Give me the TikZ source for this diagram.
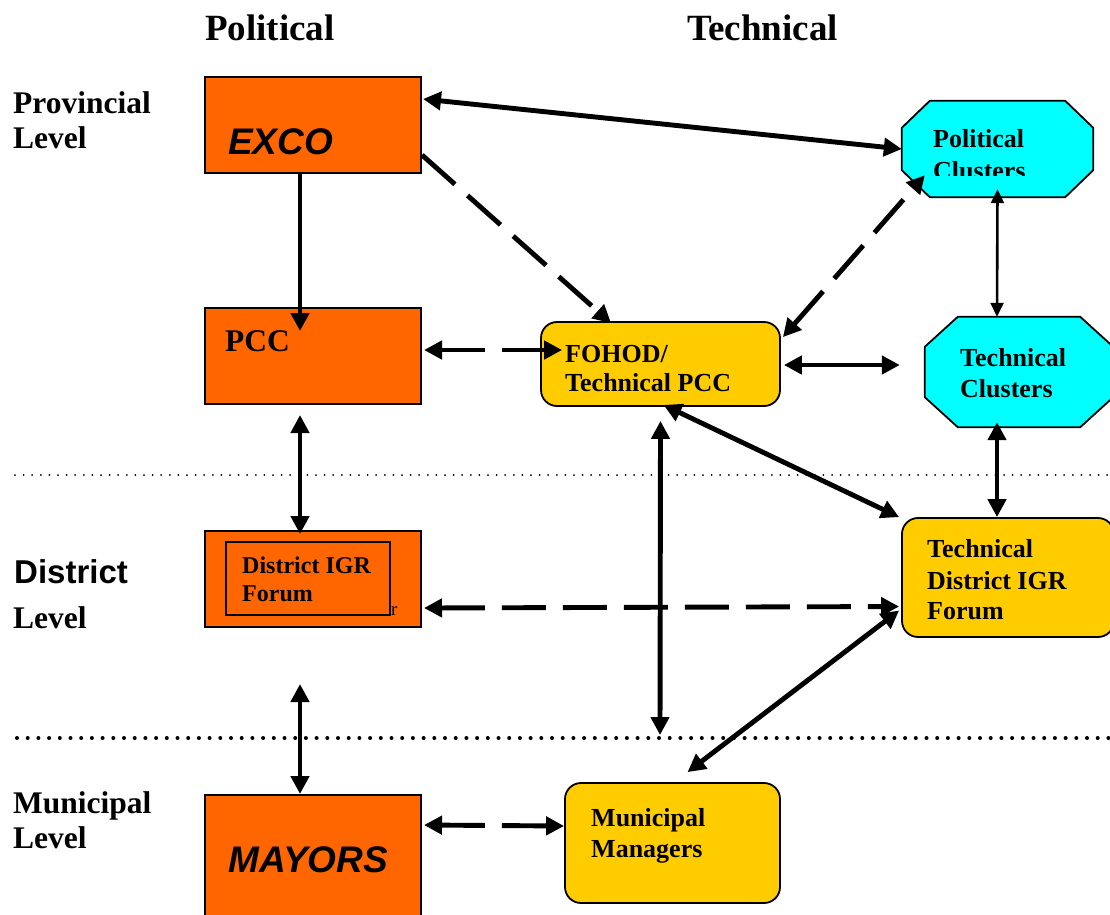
\documentclass[tikz,border=0pt]{standalone}
\usepackage{fontspec}
\setmainfont{Liberation Serif}
\newfontfamily\arialf{Liberation Sans}
\usetikzlibrary{arrows.meta,calc}
\definecolor{orangeA}{HTML}{FF6600}
\definecolor{yellowA}{HTML}{FFCC00}
\definecolor{cyanA}{HTML}{00FFFF}
\newcommand\myfs[1]{\fontsize{#1pt}{#1pt}\selectfont}
\begin{document}
\begin{tikzpicture}[x=1pt,y=-1pt,
  obox/.style={draw=black, line width=2pt, fill=orangeA, inner sep=0pt},
  ybox/.style={draw=black, line width=1.8pt, fill=yellowA, rounded corners=16pt, inner sep=0pt},
  frame/.style={inner sep=0pt, draw=none},
  octo/.style={draw=black, line width=1.8pt, fill=cyanA},
  txt/.style={anchor=base west, inner sep=0pt},
  link/.style={line width=4.9pt, {Triangle[length=18pt,width=18pt]}-{Triangle[length=18pt,width=18pt]}},
  tolink/.style={line width=4.9pt, -{Triangle[length=18pt,width=18pt]}},
  dashlink/.style={dash pattern=on 44pt off 17pt},
  thinlink/.style={line width=2.6pt, {Triangle[length=14pt,width=13pt]}-{Triangle[length=14pt,width=13pt]}},
  dotthin/.style={line width=2pt, line cap=round, dash pattern=on 0pt off 8.6pt},
  dotthick/.style={line width=4pt, line cap=round, dash pattern=on 0pt off 10.7pt}
  ]
\useasboundingbox (0,0) rectangle (1110,914);

% level separators
\coordinate (d1l) at (15,475); \coordinate (d1r) at (1112,475);
\draw[dotthin] (d1l) -- (d1r);
\coordinate (d2l) at (17,738); \coordinate (d2r) at (1112,738);
\draw[dotthick] (d2l) -- (d2r);

% boxes
\node[obox, minimum width=216pt, minimum height=96pt] (exco) at (313,125) {};
\node[obox, minimum width=216pt, minimum height=96pt] (pcc) at (313,356) {};
\node[obox, minimum width=216pt, minimum height=96pt] (dist) at (313,579) {};
\node[draw=black, line width=1.6pt, inner sep=0pt, minimum width=164pt, minimum height=73pt] (distin) at (308,578.5) {};
\node[obox, minimum width=216pt, minimum height=130pt] (mayors) at (313,860) {};
\node[ybox, minimum width=239pt, minimum height=84pt] (fohod) at (660.5,364) {};
\node[ybox, minimum width=215pt, minimum height=120pt] (mm) at (672.5,843) {};
\node[ybox, minimum width=212pt, minimum height=119pt] (tdist) at (1008,577.5) {};
\node[frame, minimum width=191pt, minimum height=96pt] (polcl) at (997.5,149) {};
\node[frame, minimum width=188pt, minimum height=110pt] (techcl) at (1019,372) {};
\draw[octo] ($(polcl.north west)+(28,0)$) -- ($(polcl.north east)+(-28,0)$) -- ($(polcl.north east)+(0,27)$) -- ($(polcl.south east)+(0,-27)$) -- ($(polcl.south east)+(-28,0)$) -- ($(polcl.south west)+(28,0)$) -- ($(polcl.south west)+(0,-27)$) -- ($(polcl.north west)+(0,27)$) -- cycle;
\draw[octo] ($(techcl.north west)+(33,0)$) -- ($(techcl.north east)+(-33,0)$) -- ($(techcl.north east)+(0,30)$) -- ($(techcl.south east)+(0,-30)$) -- ($(techcl.south east)+(-33,0)$) -- ($(techcl.south west)+(33,0)$) -- ($(techcl.south west)+(0,-30)$) -- ($(techcl.north west)+(0,30)$) -- cycle;

% headings and level labels
\node[txt, font=\bfseries\myfs{37}] (hpol) at (205,40) {Political};
\node[txt, font=\bfseries\myfs{37}] (htech) at (687,40) {Technical};
\node[txt, font=\bfseries\myfs{31.5}] (prov1) at (13,113) {Provincial};
\node[txt, font=\bfseries\myfs{31.5}] (prov2) at (13,148) {Level};
\node[txt, font=\arialf\bfseries\myfs{33}] (dis1) at (14,583) {District};
\node[txt, font=\bfseries\myfs{31.5}] (dis2) at (13,628) {Level};
\node[txt, font=\bfseries\myfs{31.5}] (mun1) at (13,813) {Municipal};
\node[txt, font=\bfseries\myfs{31.5}] (mun2) at (13,848) {Level};

% box texts
\node[txt, font=\arialf\bfseries\itshape\myfs{37}] (excot) at (228,154) {EXCO};
\node[txt, font=\bfseries\myfs{31.5}] (pcct) at (225,351) {PCC};
\node[txt, font=\bfseries\myfs{24}] (dist1) at (242,573) {District IGR};
\node[txt, font=\bfseries\myfs{24}] (dist2) at (242,601) {Forum};
\node[txt, font=\myfs{19}] (distr) at (391,615) {r};
\node[txt, font=\arialf\bfseries\itshape\myfs{37}] (mayt) at (228,872) {MAYORS};
\node[txt, font=\bfseries\myfs{26}] (foh1) at (565,362) {FOHOD/};
\node[txt, font=\bfseries\myfs{26}] (foh2) at (565,391) {Technical PCC};
\node[txt, font=\bfseries\myfs{26}] (pol1) at (933,147) {Political};
\begin{scope}
\clip (920,150) rectangle (1090,175);
\node[txt, font=\bfseries\myfs{26}] (pol2) at (933,179) {Clusters};
\end{scope}
\node[txt, font=\bfseries\myfs{26}] (tc1) at (960,366) {Technical};
\node[txt, font=\bfseries\myfs{26}] (tc2) at (960,397) {Clusters};
\node[txt, font=\bfseries\myfs{26}] (td1) at (927,557) {Technical};
\node[txt, font=\bfseries\myfs{26}] (td2) at (927,589) {District IGR};
\node[txt, font=\bfseries\myfs{26}] (td3) at (927,619) {Forum};
\node[txt, font=\bfseries\myfs{26}] (mm1) at (591,826) {Municipal};
\node[txt, font=\bfseries\myfs{26}] (mm2) at (591,857) {Managers};

% connectors
\draw[link] ($(exco.north east)+(1,23)$) -- (polcl.west);
\draw[tolink, dashlink] ($(exco.east)+(0,30)$) -- ($(fohod.north west)+(71,2)$);
\draw[tolink] ($(exco.south)+(-13,0)$) -- ($(pcc.north)+(-13,24)$);
\draw[link, dashlink] ($(pcc.east)+(2,-6)$) -- ($(fohod.west)+(22,-14)$);
\draw[link, dashlink] ($(fohod.north east)+(2,16)$) -- ($(polcl.south west)+(23,-22)$);
\draw[link] ($(fohod.east)+(3,1)$) -- ($(techcl.west)+(-25,-7)$);
\draw[thinlink] ($(polcl.south)+(0,-8)$) -- ($(techcl.north)+(-22,0)$);
\draw[link] ($(techcl.south)+(-22,-5)$) -- ($(tdist.north)+(-11,0)$);
\draw[link] ($(fohod.south)+(3,-2)$) -- ($(tdist.north west)+(-2,0)$);
\draw[link] ($(pcc.south)+(-13,10)$) -- ($(dist.north)+(-13,4)$);
\draw[link, dashlink] ($(dist.east)+(2,29)$) -- ($(tdist.west)+(-2,29)$);
\coordinate (mline) at (660,735);
\draw[link] ($(fohod.south)+(0,14)$) -- (mline);
\draw[link] ($(tdist.west)+(-2,33)$) -- ($(mm.north)+(15,-10)$);
\draw[link] ($(dist.south)+(-13,56)$) -- ($(mayors.north)+(-13,0)$);
\draw[link, dashlink] ($(mayors.north east)+(2,31)$) -- ($(mm.west)+(0,-17)$);
\end{tikzpicture}
\end{document}
